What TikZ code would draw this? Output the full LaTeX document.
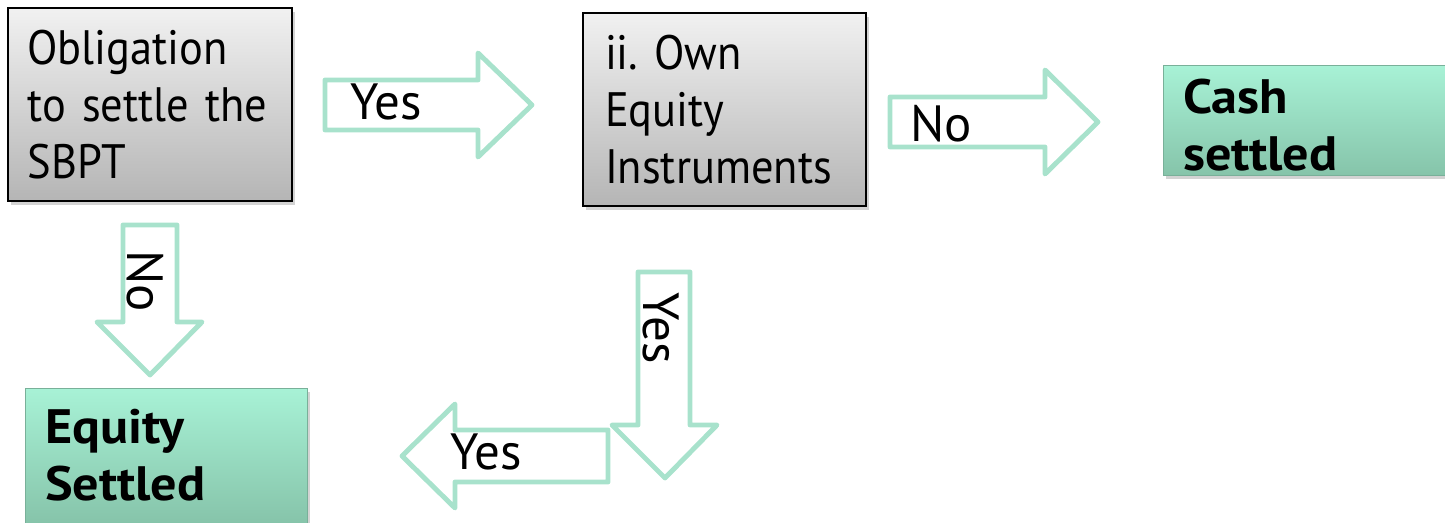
\documentclass[tikz,border=0pt]{standalone}
\usepackage{fontspec}
\setmainfont{PT Sans}[FakeStretch=0.92, BoldFeatures={FakeStretch=1.08}]
\newfontfamily\arrowfont{PT Sans}
\frenchspacing
\usetikzlibrary{shadows}
\definecolor{arrowgreen}{RGB}{168,226,204}
\definecolor{grayhi}{RGB}{241,241,241}
\definecolor{graylo}{RGB}{181,181,181}
\definecolor{greenhi}{RGB}{168,242,214}
\definecolor{greenlo}{RGB}{134,196,170}
\tikzset{
    graybox/.style = {rectangle, line width=1.1pt, draw=black, top color=grayhi, bottom color=graylo, align=left, inner sep=0pt, font=\fontsize{27.5}{32.5}\selectfont, text=black, drop shadow={shadow xshift=1.5pt, shadow yshift=-2.5pt, opacity=0.35}},
    greenbox/.style = {rectangle, draw=greenlo!90!black, thin, top color=greenhi, bottom color=greenlo, align=left, inner sep=0pt, font=\fontsize{27.5}{32.5}\selectfont\bfseries, text=black, drop shadow={shadow xshift=1.5pt, shadow yshift=-2.5pt, opacity=0.35}},
    blockarrow/.style = {line width=2.8pt, draw=arrowgreen, line join=round},
    arrowtext/.style = {inner sep=0pt, font=\arrowfont\fontsize{29}{34}\selectfont, text=black, anchor=base west}
}
\begin{document}
\begin{tikzpicture}[x=0.02cm, y=-0.02cm]
\useasboundingbox (0,0) rectangle (1445,523);
%
\node[graybox, minimum width=5.68cm, minimum height=3.86cm, text width=4.9cm] at (150,104.5) (oblig) {Obligation\\to settle the\\SBPT};
\node[graybox, minimum width=5.66cm, minimum height=3.86cm, text width=4.78cm] at (724.5,109.5) (owneq) {ii. Own\\Equity\\Instruments};
\node[greenbox, minimum width=5.64cm, minimum height=2.2cm, text width=4.84cm, text height=0.9cm] at (1304,120) (cash) {Cash\\settled};
\node[greenbox, minimum width=5.64cm, minimum height=2.70cm, text width=4.84cm] at (166,455.5) (equity) {Equity\\Settled};
%
\draw[blockarrow] (325,80) -- (478,80) -- (478,53) -- (532,105) -- (478,157) -- (478,130) -- (325,130) -- cycle;
\draw[blockarrow] (890,97) -- (1045,97) -- (1045,70) -- (1098,122) -- (1045,174) -- (1045,147) -- (890,147) -- cycle;
\draw[blockarrow] (123,225) -- (123,322) -- (97,322) -- (150,375) -- (202,322) -- (177,322) -- (177,225) -- cycle;
\draw[blockarrow] (638,272) -- (638,425) -- (612,425) -- (665,478) -- (717,425) -- (690,425) -- (690,272) -- cycle;
\draw[blockarrow] (608,430) -- (455,430) -- (455,404) -- (402,456) -- (455,508) -- (455,482) -- (608,482) -- cycle;
%
\node[arrowtext] at (350,120) (yes1) {Yes};
\node[arrowtext] at (910,142) (no1) {No};
\node[arrowtext, rotate=-90] at (127,250) (no2) {No};
\node[arrowtext, rotate=-90] at (643,292) (yes2) {Yes};
\node[arrowtext] at (450,470) (yes3) {Yes};
\end{tikzpicture}
\end{document}
